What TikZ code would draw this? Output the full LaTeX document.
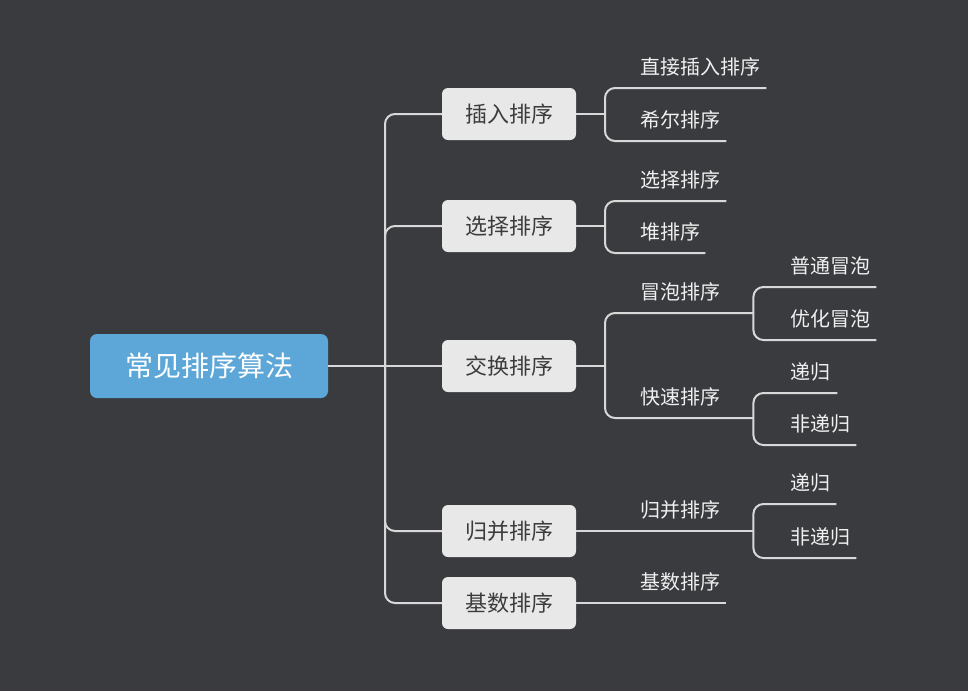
\documentclass[tikz,border=0pt]{standalone}
\usepackage{fontspec}
\setmainfont{Noto Sans CJK SC}
\usepackage{xcolor}
\definecolor{canvas}{RGB}{58,59,63}
\definecolor{rootblue}{RGB}{93,167,216}
\definecolor{topicgray}{RGB}{232,232,232}
\definecolor{topictext}{RGB}{60,60,60}
\definecolor{linkgray}{RGB}{216,216,216}
\definecolor{leaftext}{RGB}{240,240,240}

\begin{document}
\begin{tikzpicture}[
    x=1pt, y=-1pt,
    root/.style={fill=rootblue, rounded corners=7pt,
                 minimum width=238pt, minimum height=64pt,
                 text=white, font=\fontsize{28}{33}\selectfont},
    topic/.style={fill=topicgray, rounded corners=6pt,
                  minimum width=134pt, minimum height=52pt,
                  text=topictext, font=\fontsize{22}{26}\selectfont},
    leaf/.style={anchor=south west, inner xsep=0pt, inner ysep=9pt,
                 text width=#1, align=left, text height=16pt, text depth=4pt,
                 text=leaftext, font=\fontsize{20}{24}\selectfont},
    link/.style={draw=linkgray, line width=2pt, rounded corners=10pt}
  ]
    \fill[canvas] (0,0) rectangle (968,691);

    % main topics
    \node[root]  (sort)   at (209,366) {常见排序算法};
    \node[topic] (insert) at (509,114) {插入排序};
    \node[topic] (select) at (509,226) {选择排序};
    \node[topic] (swap)   at (509,366) {交换排序};
    \node[topic] (merge)  at (509,531) {归并排序};
    \node[topic] (radix)  at (509,603) {基数排序};

    \coordinate (trunk) at (385,366);
    \coordinate (insB)  at (605,114);
    \coordinate (selB)  at (605,226);
    \coordinate (swpB)  at (605,366);

    % leaves
    \node[leaf=126pt] (direct) at (640,88)  {直接插入排序};
    \node[leaf=86pt]  (shell)  at (640,141) {希尔排序};
    \node[leaf=86pt]  (choose) at (640,201) {选择排序};
    \node[leaf=65pt]  (heap)   at (640,253) {堆排序};
    \node[leaf=113pt] (bubble) at (640,313) {冒泡排序};
    \node[leaf=113pt] (quick)  at (640,418) {快速排序};
    \node[leaf=86pt]  (plain)  at (790,287) {普通冒泡};
    \node[leaf=86pt]  (better) at (790,340) {优化冒泡};
    \node[leaf=47pt]  (qrec)   at (790,393) {递归};
    \node[leaf=66pt]  (qiter)  at (790,445) {非递归};
    \node[leaf=113pt] (mlabel) at (640,531) {归并排序};
    \node[leaf=46pt]  (mrec)   at (790,504) {递归};
    \node[leaf=66pt]  (miter)  at (790,558) {非递归};
    \node[leaf=86pt]  (rlabel) at (640,603) {基数排序};

    % trunk
    \draw[link] (sort.east) -- (swap.west);
    \draw[link] (insert.west) -| (trunk) |- (radix.west);
    \draw[link] (select.west) -| (trunk);
    \draw[link] (merge.west) -| (trunk);

    % branches
    \draw[link] (insert.east) -- (insB);
    \draw[link] (direct.south east) -| (insB) |- (shell.south east);
    \draw[link] (select.east) -- (selB);
    \draw[link] (choose.south east) -| (selB) |- (heap.south east);
    \draw[link] (swap.east) -- (swpB);
    \draw[link] (bubble.south east) -| (swpB) |- (quick.south east);
    \draw[link] (plain.south east) -| (bubble.south east) |- (better.south east);
    \draw[link] (qrec.south east) -| (quick.south east) |- (qiter.south east);
    \draw[link] (merge.east) -- (mlabel.south east);
    \draw[link] (mrec.south east) -| (mlabel.south east) |- (miter.south east);
    \draw[link] (radix.east) -- (rlabel.south east);
  \end{tikzpicture}
\end{document}
